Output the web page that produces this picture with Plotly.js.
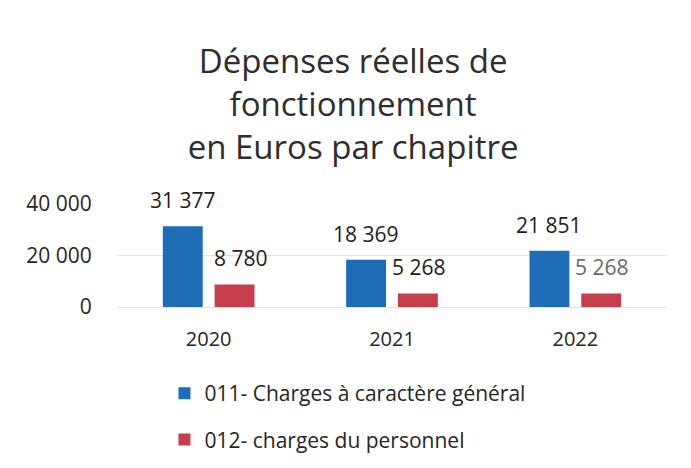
<!DOCTYPE html>
<html>
<head>
<meta charset="utf-8">
<script src="https://cdn.plot.ly/plotly-3.0.1.min.js"></script>
<style>html,body{margin:0;padding:0;background:#fff;}#chart{width:691px;height:468px;}</style>
</head>
<body>
<div id="chart"></div>
<script>
var years = ['2020', '2021', '2022'];
var seriesNames = ['011- Charges à caractère général', '012- charges du personnel'];
var chargesGenerales = [31377, 18369, 21851];
var chargesPersonnel = [8780, 5268, 5268];
var yTickVals = [0, 20000, 40000];
var yTickText = ['0', '20 000', '40 000'];
var titleLines = ['Dépenses réelles de', 'fonctionnement', 'en Euros par chapitre'];

function fmt(v) {
  return String(v).replace(/\B(?=(\d{3})+(?!\d))/g, ' ');
}

var FONT = '"Open Sans", "Noto Sans", sans-serif';
var colors = ['#1F6DB4', '#C63D4C'];

var traces = [
  {type: 'bar', name: seriesNames[0], x: years, y: chargesGenerales,
   marker: {color: colors[0]}, legendgroup: 'a'},
  {type: 'bar', name: seriesNames[1], x: years, y: chargesPersonnel,
   marker: {color: colors[1]}, legendgroup: 'b'}
];

// value labels: x given as category index (position on the category axis)
var annotations = [];
var slot = 26;
chargesGenerales.forEach(function (v, i) {
  annotations.push({x: i, y: v, xref: 'x', yref: 'y', text: fmt(v),
    showarrow: false, xshift: -slot, yshift: 26, yanchor: 'middle',
    font: {family: FONT, size: 21, color: '#1e1e1e'}});
});
chargesPersonnel.forEach(function (v, i) {
  annotations.push({x: i, y: v, xref: 'x', yref: 'y', text: fmt(v),
    showarrow: false, xshift: slot + (i === 0 ? 6 : 0), yshift: 26, yanchor: 'middle',
    font: {family: FONT, size: 21, color: i === 2 ? '#6a6a6a' : '#1e1e1e'}});
});

var layout = {
  width: 691, height: 468,
  margin: {l: 117, r: 24, t: 204, b: 161, autoexpand: false},
  paper_bgcolor: '#ffffff', plot_bgcolor: '#ffffff',
  font: {family: FONT, size: 20, color: '#262626'},
  title: {text: titleLines.join('<br>'), x: 0.511, xref: 'container', xanchor: 'center',
          y: 0.843, yref: 'container', yanchor: 'middle',
          font: {family: FONT, size: 33, color: '#2e2e2e'}},
  barmode: 'group', bargap: 0.435, bargroupgap: 0.23,
  xaxis: {type: 'category', categoryarray: years, range: [-0.5, years.length - 0.5],
          showgrid: false, showline: false, zeroline: false,
          ticks: 'outside', ticklen: 14, tickcolor: 'rgba(0,0,0,0)',
          tickfont: {family: FONT, size: 20, color: '#262626'}},
  yaxis: {range: [0, 40000], tickvals: yTickVals, ticktext: yTickText,
          showgrid: true, gridcolor: '#e4e4e4', gridwidth: 1, zeroline: true, zerolinecolor: '#e4e4e4',
          showline: false, ticks: 'outside', ticklen: 20, tickcolor: 'rgba(0,0,0,0)',
          tickfont: {family: FONT, size: 21, color: '#262626'}},
  showlegend: true,
  legend: {orientation: 'v', xref: 'container', yref: 'container',
           x: 0.238, xanchor: 'left', y: 0.203, yanchor: 'top',
           traceorder: 'grouped', tracegroupgap: 16,
           font: {family: FONT, size: 21, color: '#262626'}, bgcolor: 'rgba(0,0,0,0)'},
  annotations: annotations
};

Plotly.newPlot('chart', traces, layout, {displayModeBar: false});
</script>
</body>
</html>
